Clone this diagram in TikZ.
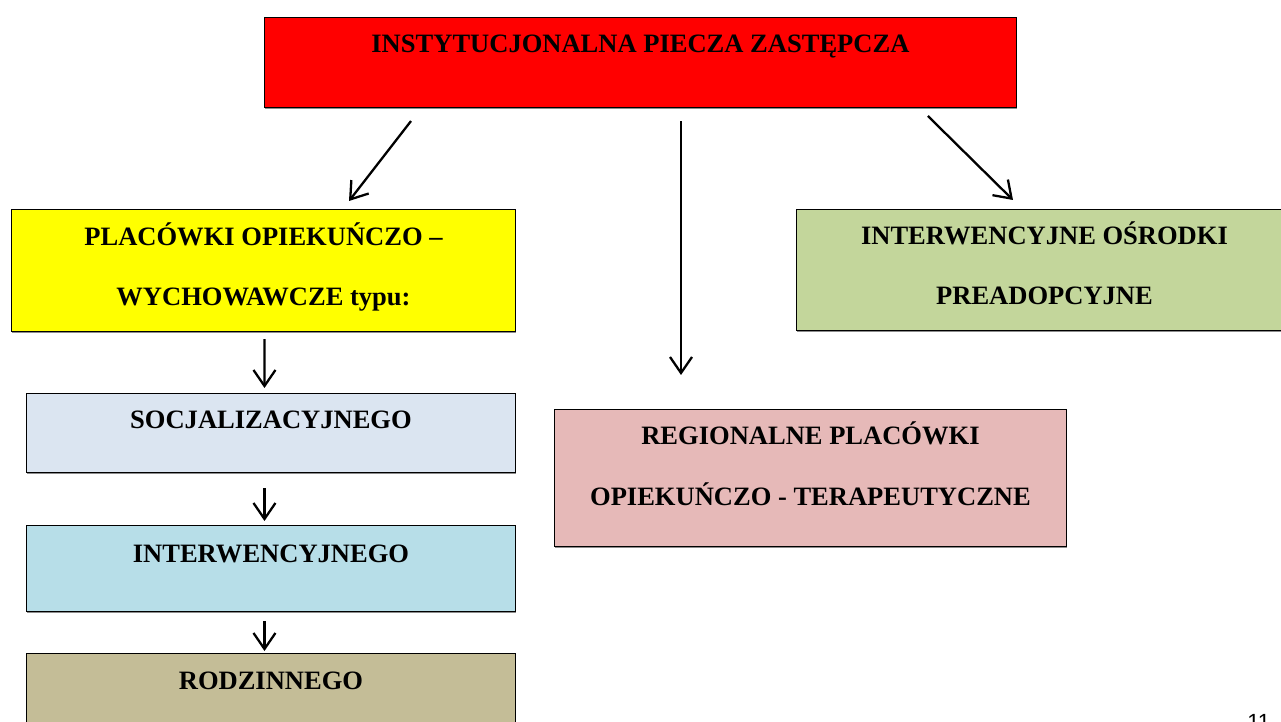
\documentclass[tikz,border=0pt]{standalone}
\usepackage{fontspec}
\setmainfont{Liberation Serif}
\newfontfamily\pagefont{Liberation Sans}
\usetikzlibrary{arrows.meta}
\usetikzlibrary{calc}
\usetikzlibrary{shadows}

\definecolor{boxred}{HTML}{FF0000}
\definecolor{boxyellow}{HTML}{FFFF00}
\definecolor{boxgreen}{HTML}{C3D69B}
\definecolor{boxlightblue}{HTML}{DBE5F1}
\definecolor{boxaqua}{HTML}{B7DEE8}
\definecolor{boxtan}{HTML}{C4BD97}
\definecolor{boxpink}{HTML}{E6B9B8}

\tikzset{
	box/.style={draw=black, line width=0.6pt, inner sep=0pt, anchor=north west,
		drop shadow={shadow xshift=0.5pt, shadow yshift=-0.7pt, fill=black!45, opacity=1}},
	boxtext/.style={font=\bfseries\fontsize{15.1}{34.4}\selectfont, align=center, anchor=base, inner sep=0pt},
	arr/.style={-{Straight Barb[length=0.32cm,width=0.44cm]}, line width=1.3pt}
}

\begin{document}
\begin{tikzpicture}[x=0.02cm, y=-0.02cm]
			\useasboundingbox (0,0) rectangle (1281,722);
			\clip (0,0) rectangle (1281,722);
			\node [box, fill=boxred, minimum width=15.04cm, minimum height=1.8cm] (top) at (264,17) {};
			\node [boxtext] (topT) at ($(top.north)+(0,35.5)$) {INSTYTUCJONALNA PIECZA ZASTĘPCZA};
			\node [box, fill=boxyellow, minimum width=10.08cm, minimum height=2.44cm] (plac) at (11,209) {};
			\node [boxtext] (placT) at ($(plac.north)+(0,96.5)$) {PLACÓWKI OPIEKUŃCZO –\\WYCHOWAWCZE typu:};
			\node [box, fill=boxgreen, minimum width=9.92cm, minimum height=2.42cm] (osrod) at (796,209) {};
			\node [boxtext] (osrodT) at ($(osrod.north)+(0,96)$) {INTERWENCYJNE OŚRODKI\\PREADOPCYJNE};
			\node [box, fill=boxlightblue, minimum width=9.78cm, minimum height=1.58cm] (socjal) at (26,393) {};
			\node [boxtext] (socjalT) at ($(socjal.north)+(0,35.5)$) {SOCJALIZACYJNEGO};
			\node [box, fill=boxaqua, minimum width=9.78cm, minimum height=1.72cm] (interw) at (26,525) {};
			\node [boxtext] (interwT) at ($(interw.north)+(0,37)$) {INTERWENCYJNEGO};
			\node [box, fill=boxtan, minimum width=9.78cm, minimum height=2cm] (rodz) at (26,653) {};
			\node [boxtext] (rodzT) at ($(rodz.north)+(0,36)$) {RODZINNEGO};
			\node [box, fill=boxpink, minimum width=10.24cm, minimum height=2.74cm] (region) at (554,409) {};
			\node [boxtext] (regionT) at ($(region.north)+(0,96)$) {REGIONALNE PLACÓWKI\\OPIEKUŃCZO - TERAPEUTYCZNE};
			\draw [arr] ($(top.south west)+(147,13)$) -- ($(plac.north west)+(338,-8)$);
			\draw [arr] ($(top.south west)+(417,13)$) -- ($(region.north west)+(127,-34)$);
			\draw [arr] ($(top.south east)+(-89,8)$) -- ($(osrod.north west)+(217,-9)$);
			\draw [arr] ($(plac.south)+(1,7)$) -- ($(socjal.north)+(-6.5,-5)$);
			\draw [arr] ($(socjal.south)+(-6.5,15)$) -- ($(interw.north)+(-6.5,-4)$);
			\draw [arr] ($(interw.south)+(-6.5,9)$) -- ($(rodz.north)+(-6.5,-2)$);
			\node [font=\pagefont\fontsize{12.5}{14}\selectfont, anchor=base west, inner sep=0pt] (page) at (1247,729) {11};
	\end{tikzpicture}
\end{document}
